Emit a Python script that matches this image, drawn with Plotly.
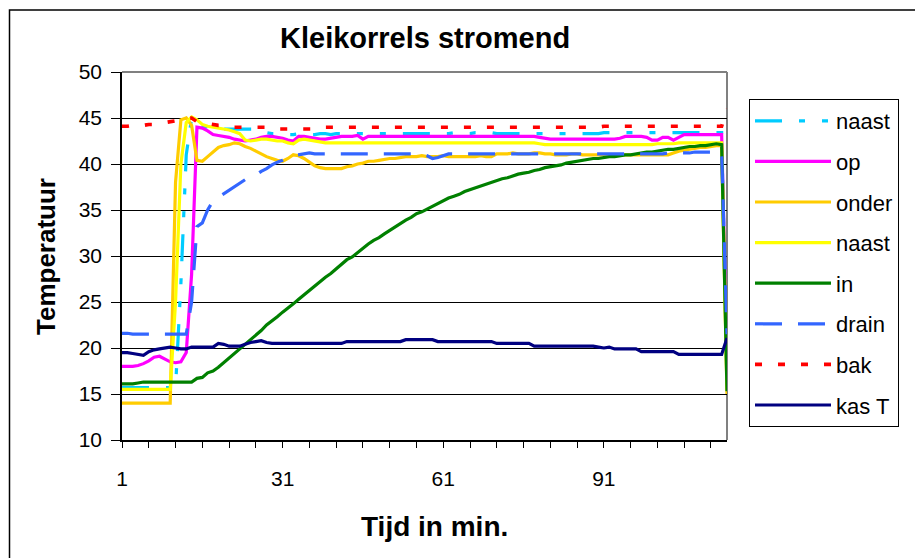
import plotly.graph_objects as go

# ---------------- data ----------------
minutes = list(range(1, 115))

naast_1 = [
    15.7, 15.7, 15.7, 15.7, 15.7, 15.7, 15.7, 15.7, 15.7, 15.7,
    15.7, 27.0, 41.0, 45.0, 44.3, 44.1, 44.0, 43.8, 43.8, 43.8,
    43.8, 43.8, 43.8, 43.8, 43.8, 43.8, 43.5, 43.4, 43.3, 43.3,
    43.3, 43.2, 43.2, 43.3, 43.3, 43.2, 43.2, 43.3, 43.3, 43.2,
    43.3, 43.3, 43.3, 43.3, 43.3, 43.3, 43.3, 43.3, 43.3, 43.3,
    43.3, 43.3, 43.3, 43.3, 43.3, 43.3, 43.3, 43.3, 43.3, 43.3,
    43.3, 43.3, 43.4, 43.3, 43.3, 43.3, 43.4, 43.4, 43.4, 43.4,
    43.3, 43.3, 43.3, 43.3, 43.3, 43.3, 43.3, 43.3, 43.3, 43.3,
    43.3, 43.3, 43.3, 43.3, 43.3, 43.3, 43.3, 43.3, 43.3, 43.3,
    43.4, 43.4, 43.4, 43.4, 43.4, 43.4, 43.4, 43.4, 43.4, 43.4,
    43.4, 43.4, 43.4, 43.4, 43.4, 43.4, 43.4, 43.4, 43.4, 43.4,
    43.4, 43.4, 43.4, 16.0,
]

op = [
    18.0, 18.0, 18.0, 18.1, 18.3, 18.6, 19.0, 19.1, 18.8, 18.5,
    18.4, 18.5, 19.5, 28.0, 44.0, 43.9, 43.6, 43.2, 43.1, 43.0,
    42.9, 42.7, 42.6, 42.5, 42.6, 42.7, 42.9, 43.0, 43.0, 42.9,
    42.8, 42.6, 42.5, 43.0, 43.0, 42.9, 42.8, 42.7, 42.7, 42.8,
    42.9, 43.0, 43.0, 43.0, 43.1, 42.7, 43.0, 43.0, 43.0, 43.0,
    43.0, 43.0, 43.0, 43.0, 43.0, 43.0, 43.0, 43.0, 43.0, 43.0,
    43.0, 43.0, 43.0, 43.0, 43.0, 43.0, 43.0, 43.0, 43.0, 43.0,
    43.0, 43.0, 43.0, 43.0, 43.0, 43.0, 43.0, 43.0, 42.9, 42.8,
    42.7, 42.7, 42.7, 42.7, 42.7, 42.7, 42.7, 42.7, 42.7, 42.7,
    42.7, 42.7, 42.7, 42.8, 43.0, 43.0, 43.0, 43.0, 42.9, 42.6,
    42.6, 42.9, 42.9, 42.6, 42.9, 43.2, 43.2, 43.2, 43.2, 43.2,
    43.2, 43.2, 43.2, 18.0,
]

onder = [
    14.0, 14.0, 14.0, 14.0, 14.0, 14.0, 14.0, 14.0, 14.0, 14.0,
    38.0, 44.8, 45.0, 44.2, 40.4, 40.3, 40.8, 41.3, 41.8, 42.0,
    42.1, 42.3, 42.2, 41.9, 41.7, 41.4, 41.1, 40.8, 40.6, 40.4,
    40.3, 40.6, 41.0, 40.9, 40.6, 40.2, 39.8, 39.6, 39.5, 39.5,
    39.5, 39.5, 39.7, 39.8, 40.0, 40.1, 40.3, 40.3, 40.4, 40.5,
    40.6, 40.6, 40.7, 40.8, 40.8, 40.8, 40.9, 40.8, 40.8, 40.8,
    40.9, 40.8, 40.8, 40.8, 40.8, 40.8, 40.8, 40.9, 40.8, 40.8,
    41.1, 41.1, 41.1, 41.2, 41.1, 41.1, 41.1, 41.2, 41.2, 41.1,
    41.1, 41.0, 41.0, 41.0, 41.1, 41.1, 41.0, 41.0, 41.0, 41.0,
    41.0, 41.0, 41.0, 41.0, 41.0, 41.0, 41.0, 41.0, 41.0, 41.0,
    41.0, 41.0, 41.0, 41.2, 41.4, 41.5, 41.6, 41.7, 41.8, 41.8,
    41.9, 42.0, 42.0, 15.0,
]

naast_2 = [
    15.5, 15.5, 15.5, 15.5, 15.5, 15.5, 15.5, 15.5, 15.5, 15.5,
    25.0, 40.0, 44.5, 45.1, 44.8, 44.3, 44.1, 44.0, 43.9, 43.8,
    43.7, 43.5, 43.3, 42.6, 42.5, 42.6, 42.7, 42.7, 42.6, 42.5,
    42.5, 42.3, 42.2, 42.6, 42.7, 42.6, 42.5, 42.4, 42.3, 42.3,
    42.3, 42.3, 42.3, 42.3, 42.3, 42.3, 42.3, 42.3, 42.3, 42.3,
    42.3, 42.3, 42.3, 42.3, 42.3, 42.3, 42.3, 42.3, 42.3, 42.3,
    42.3, 42.3, 42.3, 42.3, 42.3, 42.3, 42.3, 42.3, 42.3, 42.3,
    42.3, 42.3, 42.3, 42.3, 42.3, 42.3, 42.3, 42.3, 42.2, 42.1,
    42.1, 42.1, 42.1, 42.1, 42.1, 42.1, 42.1, 42.1, 42.1, 42.1,
    42.1, 42.1, 42.1, 42.1, 42.1, 42.1, 42.1, 42.1, 42.1, 42.1,
    42.2, 42.2, 42.2, 42.2, 42.3, 42.3, 42.3, 42.3, 42.3, 42.3,
    42.3, 42.3, 42.3, 15.5,
]

in_ = [
    16.1, 16.1, 16.1, 16.2, 16.3, 16.3, 16.3, 16.3, 16.3, 16.3,
    16.3, 16.3, 16.3, 16.3, 16.7, 16.8, 17.3, 17.5, 17.9, 18.4,
    18.9, 19.3, 19.8, 20.4, 20.9, 21.3, 21.9, 22.5, 22.9, 23.4,
    23.9, 24.3, 24.8, 25.3, 25.8, 26.3, 26.8, 27.3, 27.7, 28.1,
    28.6, 29.1, 29.6, 29.9, 30.4, 30.9, 31.3, 31.7, 32.0, 32.4,
    32.8, 33.2, 33.5, 33.9, 34.2, 34.6, 34.8, 35.1, 35.4, 35.7,
    36.0, 36.3, 36.5, 36.7, 37.0, 37.2, 37.4, 37.6, 37.8, 38.0,
    38.2, 38.4, 38.5, 38.7, 38.9, 39.0, 39.1, 39.3, 39.4, 39.6,
    39.7, 39.8, 39.9, 40.1, 40.2, 40.3, 40.4, 40.5, 40.6, 40.6,
    40.7, 40.8, 40.8, 40.9, 41.0, 41.0, 41.1, 41.2, 41.3, 41.3,
    41.4, 41.5, 41.6, 41.6, 41.7, 41.8, 41.9, 41.9, 42.0, 42.0,
    42.1, 42.2, 42.1, 15.3,
]

drain = [
    21.6, 21.6, 21.5, 21.5, 21.5, 21.5, 21.5, 21.5, 21.5, 21.5,
    21.5, 21.5, 21.5, 25.0, 33.2, 33.6, 35.0, 36.0, 36.4, 36.8,
    37.1, 37.6, 38.0, 38.3, 38.5, 38.8, 39.2, 39.5, 39.9, 40.2,
    40.4, 40.7, 40.9, 41.0, 41.1, 41.2, 41.1, 41.1, 41.1, 41.1,
    41.1, 41.1, 41.1, 41.1, 41.1, 41.1, 41.1, 41.1, 41.1, 41.1,
    41.1, 41.1, 41.1, 41.1, 41.1, 41.1, 41.1, 40.9, 40.6, 40.7,
    40.9, 41.1, 41.1, 41.1, 41.1, 41.1, 41.1, 41.1, 41.1, 41.1,
    41.1, 41.1, 41.1, 41.1, 41.1, 41.1, 41.1, 41.1, 41.1, 41.1,
    41.1, 41.1, 41.1, 41.1, 41.1, 41.1, 41.1, 41.1, 41.1, 41.1,
    41.1, 41.1, 41.1, 41.1, 41.1, 41.1, 41.1, 41.1, 41.1, 41.1,
    41.1, 41.1, 41.2, 41.2, 41.2, 41.2, 41.2, 41.3, 41.3, 41.3,
    41.3, 41.3, 41.3, 21.5,
]

bak = [
    44.1, 44.1, 44.2, 44.2, 44.2, 44.3, 44.3, 44.4, 44.5, 44.6,
    44.7, 44.9, 45.0, 45.0, 44.6, 44.5, 44.4, 44.3, 44.2, 44.2,
    44.1, 44.0, 44.0, 44.0, 44.0, 44.0, 44.0, 44.0, 43.8, 43.8,
    43.8, 43.8, 43.8, 43.8, 43.8, 43.8, 43.8, 43.8, 44.0, 44.0,
    44.0, 44.0, 44.0, 44.0, 44.0, 44.0, 44.0, 44.0, 44.0, 44.0,
    44.0, 44.0, 44.0, 44.0, 44.0, 44.0, 44.0, 44.0, 44.0, 44.0,
    44.0, 44.0, 44.0, 44.0, 44.0, 44.0, 44.0, 44.0, 44.0, 44.0,
    44.0, 44.0, 44.0, 44.0, 44.0, 44.0, 44.0, 44.0, 44.0, 44.0,
    44.0, 44.0, 44.0, 44.0, 44.0, 44.0, 44.0, 44.0, 44.0, 44.0,
    44.1, 44.1, 44.1, 44.1, 44.1, 44.1, 44.1, 44.1, 44.1, 44.1,
    44.1, 44.1, 44.1, 44.1, 44.1, 44.1, 44.1, 44.1, 44.1, 44.1,
    44.1, 44.1, 44.1, 46.0,
]

kas_T = [
    19.5, 19.5, 19.4, 19.3, 19.2, 19.6, 19.8, 19.9, 20.0, 20.1,
    20.0, 19.9, 19.9, 20.1, 20.1, 20.1, 20.1, 20.1, 20.5, 20.4,
    20.2, 20.2, 20.2, 20.4, 20.6, 20.7, 20.8, 20.6, 20.5, 20.5,
    20.5, 20.5, 20.5, 20.5, 20.5, 20.5, 20.5, 20.5, 20.5, 20.5,
    20.5, 20.5, 20.7, 20.7, 20.7, 20.7, 20.7, 20.7, 20.7, 20.7,
    20.7, 20.7, 20.7, 20.9, 20.9, 20.9, 20.9, 20.9, 20.9, 20.7,
    20.7, 20.7, 20.7, 20.7, 20.7, 20.7, 20.7, 20.7, 20.7, 20.7,
    20.5, 20.5, 20.5, 20.5, 20.5, 20.5, 20.5, 20.2, 20.2, 20.2,
    20.2, 20.2, 20.2, 20.2, 20.2, 20.2, 20.2, 20.2, 20.2, 20.1,
    20.0, 20.1, 19.9, 19.9, 19.9, 19.9, 19.9, 19.6, 19.6, 19.6,
    19.6, 19.6, 19.6, 19.6, 19.3, 19.3, 19.3, 19.3, 19.3, 19.3,
    19.3, 19.3, 19.3, 21.1,
]

series_names = ["naast", "op", "onder", "naast", "in", "drain", "bak", "kas T"]
series_values = [naast_1, op, onder, naast_2, in_, drain, bak, kas_T]

x_tick_values = list(range(1, 112, 5))
x_tick_labels = ["1", "31", "61", "91"]
y_tick_values = [10, 15, 20, 25, 30, 35, 40, 45, 50]

# ---------------- styles ----------------
styles = [
    dict(color="#00CCFF", width=3.2, dash="27px,17px,6px,17px,6px,17px"),
    dict(color="#FF00FF", width=3.2, dash="solid"),
    dict(color="#FFCC00", width=3.2, dash="solid"),
    dict(color="#FFFF00", width=3.2, dash="solid"),
    dict(color="#008000", width=3.2, dash="solid"),
    dict(color="#3366FF", width=3.2, dash="27px,16px"),
    dict(color="#FF0000", width=3.6, dash="7px,16px"),
    dict(color="#000080", width=3.2, dash="solid"),
]

FONT = "Arial, 'Liberation Sans', sans-serif"

fig = go.Figure()
for i, (name, vals) in enumerate(zip(series_names, series_values)):
    fig.add_trace(go.Scatter(
        x=minutes, y=vals, name=name, mode="lines",
        line=styles[i], legendgroup=f"g{i}",
    ))

# page offset of the figure div (default body margin)
OFF = 8
# plot area in page pixels
L, R, T, B = 122, 727, 72, 440
W, H = 923 - OFF, 558 - OFF
pw, ph = R - L, B - T

def px(xp):
    return (xp - L) / pw

def py(yp):
    return (B - yp) / ph

shown = set(int(v) for v in x_tick_labels)
fig.update_xaxes(
    range=[1, 114], tickmode="array", tickvals=x_tick_values,
    ticktext=[str(v) if v in shown else "" for v in x_tick_values],
    ticks="outside", ticklen=6, tickwidth=1, tickcolor="#000000",
    showgrid=False, zeroline=False,
    showline=True, linecolor="#000000", linewidth=1.5,
    tickfont=dict(family=FONT, size=21, color="#000000"),
    ticklabelstandoff=13,
)
fig.update_yaxes(
    range=[10, 50], tickmode="array", tickvals=y_tick_values,
    ticks="outside", ticklen=9, tickwidth=1, tickcolor="#000000",
    showgrid=True, gridcolor="#000000", gridwidth=1, zeroline=False,
    showline=True, linecolor="#000000", linewidth=1.5,
    tickfont=dict(family=FONT, size=21, color="#000000"),
    ticklabelstandoff=5,
)

shapes = [
    dict(type="line", xref="paper", yref="paper", x0=0, x1=1, y0=1, y1=1,
         line=dict(color="#808080", width=2), layer="between"),
    dict(type="line", xref="paper", yref="paper", x0=1, x1=1, y0=0, y1=1,
         line=dict(color="#808080", width=2), layer="between"),
    dict(type="rect", xref="paper", yref="paper",
         x0=px(OFF + 1.5), x1=px(940), y0=py(575), y1=py(10),
         line=dict(color="#000000", width=1.5), layer="below"),
]

annotations = [
    dict(text="<b>Kleikorrels stromend</b>", x=0.5, y=py(38), xref="paper", yref="paper",
         showarrow=False, xanchor="center", yanchor="middle",
         font=dict(family=FONT, size=29, color="#000000")),
    dict(text="<b>Temperatuur</b>", x=px(46), y=py(257), xref="paper", yref="paper",
         showarrow=False, xanchor="center", yanchor="middle", textangle=-90,
         font=dict(family=FONT, size=26, color="#000000")),
    dict(text="<b>Tijd in min.</b>", x=px(434), y=py(526), xref="paper", yref="paper",
         showarrow=False, xanchor="center", yanchor="middle",
         font=dict(family=FONT, size=28, color="#000000")),
]

fig.update_layout(
    width=W, height=H,
    margin=dict(l=L - OFF, r=W - (R - OFF), t=T - OFF, b=H - (B - OFF), pad=0),
    paper_bgcolor="#FFFFFF", plot_bgcolor="#FFFFFF",
    shapes=shapes, annotations=annotations,
    showlegend=True,
    legend=dict(
        x=px(749), y=py(99), xanchor="left", yanchor="top",
        bordercolor="#000000", borderwidth=1, bgcolor="#FFFFFF",
        font=dict(family=FONT, size=22, color="#000000"),
        traceorder="grouped", tracegroupgap=9, itemwidth=76,
    ),
)

fig.write_html("out.html")
